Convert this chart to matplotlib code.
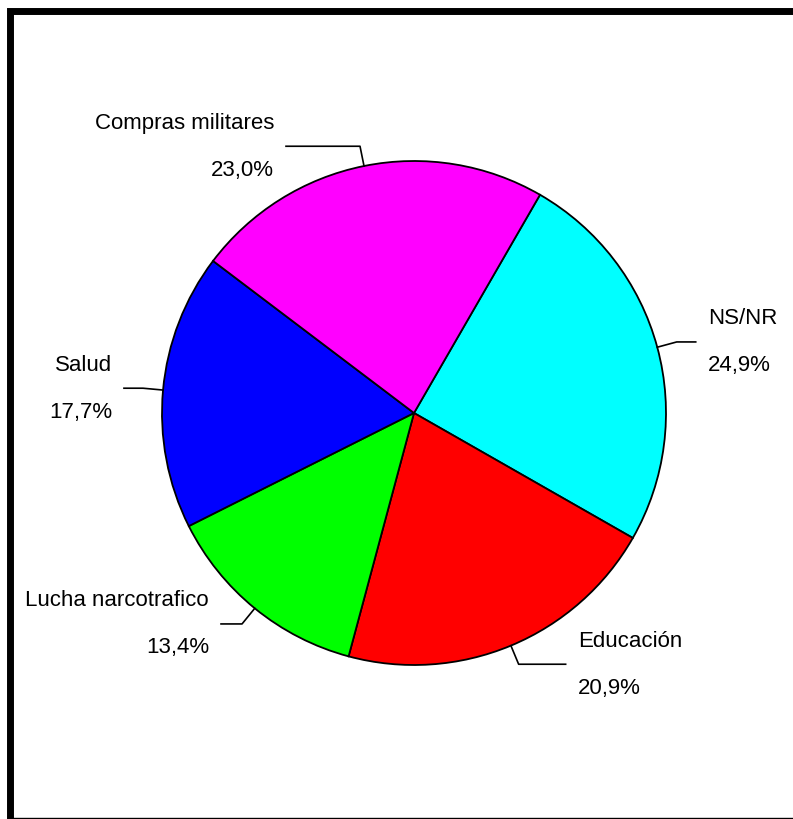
import numpy as np
import matplotlib.pyplot as plt

plt.rcParams["font.family"] = ["Liberation Sans", "DejaVu Sans"]

labels = ["NS/NR", "Educación", "Lucha narcotrafico", "Salud", "Compras militares"]
values = [24.9, 20.9, 13.4, 17.7, 23.0]
colors = ["#00ffff", "#ff0000", "#00ff00", "#0000ff", "#ff00ff"]

# horizontal run of each leader line, in pixels
runs = [19, 47, 21, 19, 74]

W, H = 793, 819
CX, CY, R = 414, H - 413, 252


def main():
    fig = plt.figure(figsize=(W / 100, H / 100), dpi=100)
    ax = fig.add_axes([0, 0, 1, 1])
    wedges, _ = ax.pie(
        values,
        colors=colors,
        startangle=60,
        counterclock=False,
        center=(CX, CY),
        radius=R,
        wedgeprops=dict(edgecolor="black", linewidth=1.3),
    )
    ax.set_xlim(0, W)
    ax.set_ylim(0, H)
    ax.set_aspect("auto")
    ax.axis("off")

    for w, name, val, run in zip(wedges, labels, values, runs):
        mid = np.deg2rad((w.theta1 + w.theta2) / 2)
        c, s = np.cos(mid), np.sin(mid)
        side = 1 if c > 0 else -1
        x0, y0 = CX + R * c, CY + R * s
        x1, y1 = CX + R * 1.08 * c, CY + R * 1.08 * s
        x2 = x1 + side * run
        ax.plot([x0, x1, x2], [y0, y1, y1], color="black", lw=1.2, clip_on=False)
        tx = x2 + side * 12
        ha = "left" if side > 0 else "right"
        ax.text(tx, y1 + 23, name, ha=ha, va="center", fontsize=16)
        ax.text(tx, y1 - 24, f"{val:.1f}%".replace(".", ","), ha=ha, va="center", fontsize=16)

    # frame
    ax.plot([10, 10, W + 5], [-5, H - 11, H - 11], color="black", lw=5,
            solid_joinstyle="miter", clip_on=False)
    ax.plot([10, W], [1.5, 1.5], color="black", lw=1, clip_on=False)

    fig.savefig("out.png", dpi=100, facecolor="white")


if __name__ == "__main__":
    main()
